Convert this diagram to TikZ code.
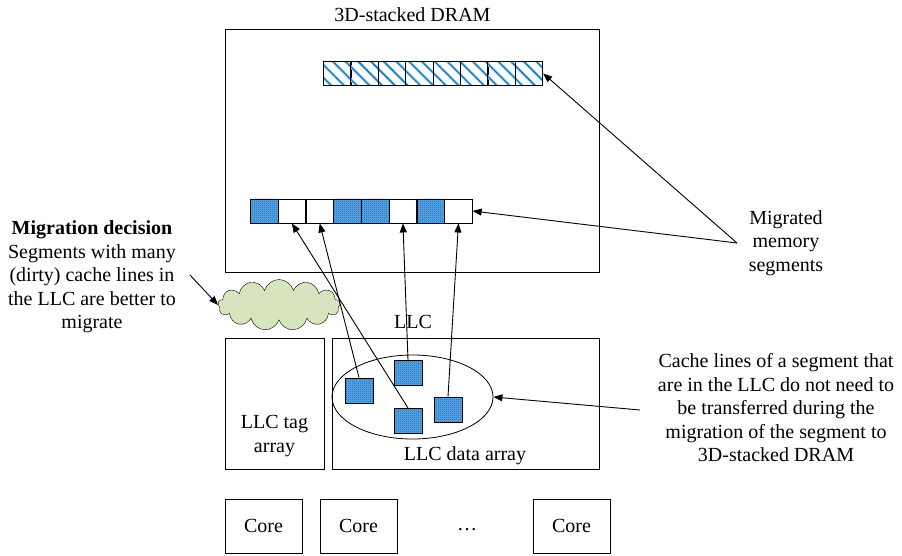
\documentclass[tikz,border=0pt]{standalone}
\usepackage{fontspec}
\setmainfont{Liberation Serif}
\usetikzlibrary{arrows.meta,patterns,patterns.meta,shapes.geometric,shapes.symbols,positioning}
\definecolor{segblue}{RGB}{0,112,192}
\definecolor{segmid}{RGB}{95,165,225}
\definecolor{seglight}{RGB}{170,210,240}
\definecolor{cloudgreen}{RGB}{215,228,189}
\pgfdeclarepatternformonly{finecheck}{\pgfpointorigin}{\pgfqpoint{2pt}{2pt}}{\pgfqpoint{2pt}{2pt}}{%
    \pgfpathrectangle{\pgfpointorigin}{\pgfqpoint{1.05pt}{1.05pt}}%
    \pgfpathrectangle{\pgfqpoint{1pt}{1pt}}{\pgfqpoint{1.05pt}{1.05pt}}%
    \pgfusepath{fill}}
\tikzset{
    box/.style={draw, line width=0.9pt, inner sep=0pt},
    cell/.style={draw, line width=0.9pt, minimum width=27.5pt, minimum height=24pt, inner sep=0pt, anchor=west},
    blank/.style={},
    checked/.style={preaction={fill=segmid}, pattern=finecheck, pattern color=segblue},
    hatched/.style={preaction={pattern={Lines[angle=-45,distance=9pt,line width=3pt]}, pattern color=seglight},
        pattern={Lines[angle=-45,distance=9pt,line width=1.1pt]}, pattern color=segblue},
    txt/.style={font=\fontsize{20}{23.5}\selectfont, align=center, inner sep=0pt},
    arr/.style={-{Triangle[length=9pt,width=7pt]}, line width=0.9pt},
}

\begin{document}
\begin{tikzpicture}[x=1pt,y=-1pt]
        \useasboundingbox (0,0) rectangle (902,556);
        %draw the dram box and its two rows of segments
        \node[box, minimum width=374pt, minimum height=243pt, anchor=north west] (dram) at (225,29) {};
        \node[txt, above=7pt of dram] (dramlabel) {3D-stacked DRAM};
        \foreach \i in {1,...,8}
            \node[cell, hatched] (t\i) at ({323+27.4*(\i-1)},73.5) {};
        \foreach \i/\k in {1/checked,2/blank,3/blank,4/checked,5/checked,6/blank,7/checked,8/blank}
            \node[cell, \k] (m\i) at ({250+27.75*(\i-1)},211) {};
        %draw the cloud of the migration decision
        \node[cloud, draw, fill=cloudgreen, cloud puffs=13, cloud ignores aspect, minimum width=122pt, minimum height=51pt, inner sep=0pt] (cloud) at (279,305) {};
        %draw llc tag array and llc data array
        \node[txt] (llclabel) at (413,322) {LLC};
        \node[box, minimum width=99pt, minimum height=131pt, anchor=north west] (tag) at (225,338) {};
        \node[box, minimum width=267pt, minimum height=131pt, anchor=north west] (data) at (332,338) {};
        \node[txt] (taglabel) at (274.5,436) {LLC tag\\array};
        \node[txt] (datalabel) at (465,456) {LLC data array};
        %draw cache lines of the segment in the llc
        \node[draw, ellipse, line width=0.8pt, minimum width=161pt, minimum height=84pt] (grp) at (412.5,397) {};
        \node[box, checked, minimum width=28pt, minimum height=25pt] (l1) at (359,390.5) {};
        \node[box, checked, minimum width=28pt, minimum height=25pt] (l2) at (408,373) {};
        \node[box, checked, minimum width=28pt, minimum height=25pt] (l3) at (408,421) {};
        \node[box, checked, minimum width=28pt, minimum height=25pt] (l4) at (448,409.5) {};
        %draw lines from the llc to the migrated segments
        \draw[arr] (l1.north) -- (m3.south);
        \draw[arr] (l3.north) -- (m2.south);
        \draw[arr] (l2.north) -- (m6.south);
        \draw[arr] (l4.north) -- (m8.south);
        %draw the cores
        \node[box, minimum width=77pt, minimum height=54pt] (c1) at (263.5,526) {};
        \node[box, minimum width=77pt, minimum height=54pt] (c2) at (358.5,526) {};
        \node[box, minimum width=77pt, minimum height=54pt] (c3) at (571.5,526) {};
        \node[txt] at (c1) {Core};
        \node[txt] at (c2) {Core};
        \node[txt] at (c3) {Core};
        \node[txt] (dots) at (467,530) {\dots};
        %label the diagram
        \node[txt] (decision) at (92,277) {\textbf{Migration decision}\\Segments with many\\(dirty) cache lines in\\the LLC are better to\\migrate};
        \node[txt] (migrated) at (786,243) {Migrated\\memory\\segments};
        \node[txt] (cachetext) at (776,408) {Cache lines of a segment that\\are in the LLC do not need to\\be transferred during the\\migration of the segment to\\3D-stacked DRAM};
        %draw the arrows from the labels
        \coordinate (dfrom) at (190,275);
        \coordinate (mfrom) at (737,243);
        \coordinate (cfrom) at (640,410);
        \draw[arr] (dfrom) -- (cloud.west);
        \draw[arr] (mfrom) -- (t8.east);
        \draw[arr] (mfrom) -- (m8.east);
        \draw[arr] (cfrom) -- (grp.east);
    \end{tikzpicture}
\end{document}
